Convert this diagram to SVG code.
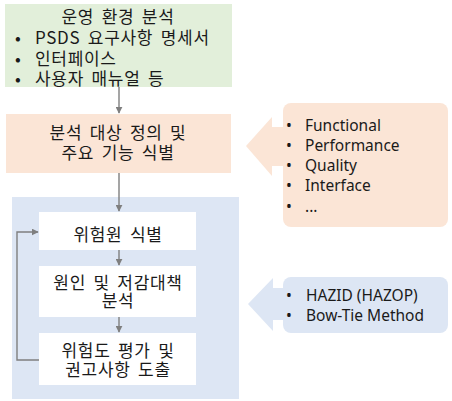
<svg xmlns="http://www.w3.org/2000/svg" width="452" height="401" viewBox="0 0 452 401">
  <defs>
    <style>
      .t { font-family: "Noto Sans CJK KR", "Noto Sans", sans-serif; font-size: 17px; letter-spacing: 0.7px; word-spacing: 3px; fill: #1a1a1a; }
      .c { text-anchor: middle; }
      .s { font-family: "Noto Sans", "Noto Sans CJK KR", sans-serif; font-size: 15.5px; fill: #1a1a1a; }
      .green { fill: #e2efda; }
      .orange { fill: #fbe5d6; }
      .blue { fill: #dde6f4; }
      .white { fill: #ffffff; }
      .link { fill: none; stroke: #7f7f7f; stroke-width: 1.4; }
    </style>
    <marker id="arrow" viewBox="0 0 10 10" refX="9" refY="5" markerWidth="7" markerHeight="7" markerUnits="userSpaceOnUse" orient="auto">
      <path d="M0,0 L10,5 L0,10 Z" fill="#7f7f7f"/>
    </marker>
  </defs>

  <!-- operating environment analysis -->
  <g id="env">
    <rect class="green" x="5" y="4" width="227" height="83"/>
    <text class="t c" x="118" y="23">운영 환경 분석</text>
    <text class="t" x="15" y="44">•</text>
    <text class="t" x="35" y="44">PSDS 요구사항 명세서</text>
    <text class="t" x="15" y="65">•</text>
    <text class="t" x="35" y="65">인터페이스</text>
    <text class="t" x="15" y="85">•</text>
    <text class="t" x="35" y="85">사용자 매뉴얼 등</text>
  </g>

  <!-- target definition -->
  <g id="target">
    <rect class="orange" x="6" y="114" width="225" height="59"/>
    <text class="t c" x="118" y="139">분석 대상 정의 및</text>
    <text class="t c" x="118" y="159">주요 기능 식별</text>
  </g>

  <!-- function categories callout -->
  <g id="functions">
    <path class="orange" d="M246,146 L272,117 L272,127 L290,127 L290,166 L272,166 L272,176 Z"/>
    <rect class="orange" x="283" y="103" width="165" height="124" rx="8"/>
    <text class="s" x="286" y="131">•</text>
    <text class="s" x="305" y="131">Functional</text>
    <text class="s" x="286" y="151">•</text>
    <text class="s" x="305" y="151">Performance</text>
    <text class="s" x="286" y="171">•</text>
    <text class="s" x="305" y="171">Quality</text>
    <text class="s" x="286" y="191">•</text>
    <text class="s" x="305" y="191">Interface</text>
    <text class="s" x="286" y="212">•</text>
    <text class="s" x="305" y="212">...</text>
  </g>

  <!-- hazard analysis cycle -->
  <g id="cycle">
    <rect class="blue" x="12" y="197" width="227" height="202"/>
  </g>

  <g id="hazard">
    <rect class="white" x="39" y="212" width="157" height="38"/>
    <text class="t c" x="118" y="241">위험원 식별</text>
  </g>

  <g id="cause">
    <rect class="white" x="39" y="266" width="157" height="51"/>
    <text class="t c" x="118" y="289">원인 및 저감대책</text>
    <text class="t c" x="118" y="307">분석</text>
  </g>

  <g id="risk">
    <rect class="white" x="39" y="333" width="157" height="52"/>
    <text class="t c" x="118" y="357">위험도 평가 및</text>
    <text class="t c" x="118" y="376">권고사항 도출</text>
  </g>

  <!-- method callout -->
  <g id="methods">
    <path class="blue" d="M248,304 L273,278 L273,288 L290,288 L290,320 L273,320 L273,331 Z"/>
    <rect class="blue" x="283" y="277" width="165" height="56" rx="8"/>
    <text class="s" x="286" y="301">•</text>
    <text class="s" x="306" y="301">HAZID (HAZOP)</text>
    <text class="s" x="286" y="321">•</text>
    <text class="s" x="306" y="321">Bow-Tie Method</text>
  </g>

  <!-- connectors -->
  <g id="connectors">
    <line class="link" x1="119" y1="87" x2="119" y2="113" marker-end="url(#arrow)"/>
    <line class="link" x1="119" y1="173" x2="119" y2="211" marker-end="url(#arrow)"/>
    <line class="link" x1="119" y1="250" x2="119" y2="265" marker-end="url(#arrow)"/>
    <line class="link" x1="119" y1="317" x2="119" y2="332" marker-end="url(#arrow)"/>
    <polyline class="link" points="39,360 17,360 17,232 38,232" marker-end="url(#arrow)"/>
  </g>
</svg>
